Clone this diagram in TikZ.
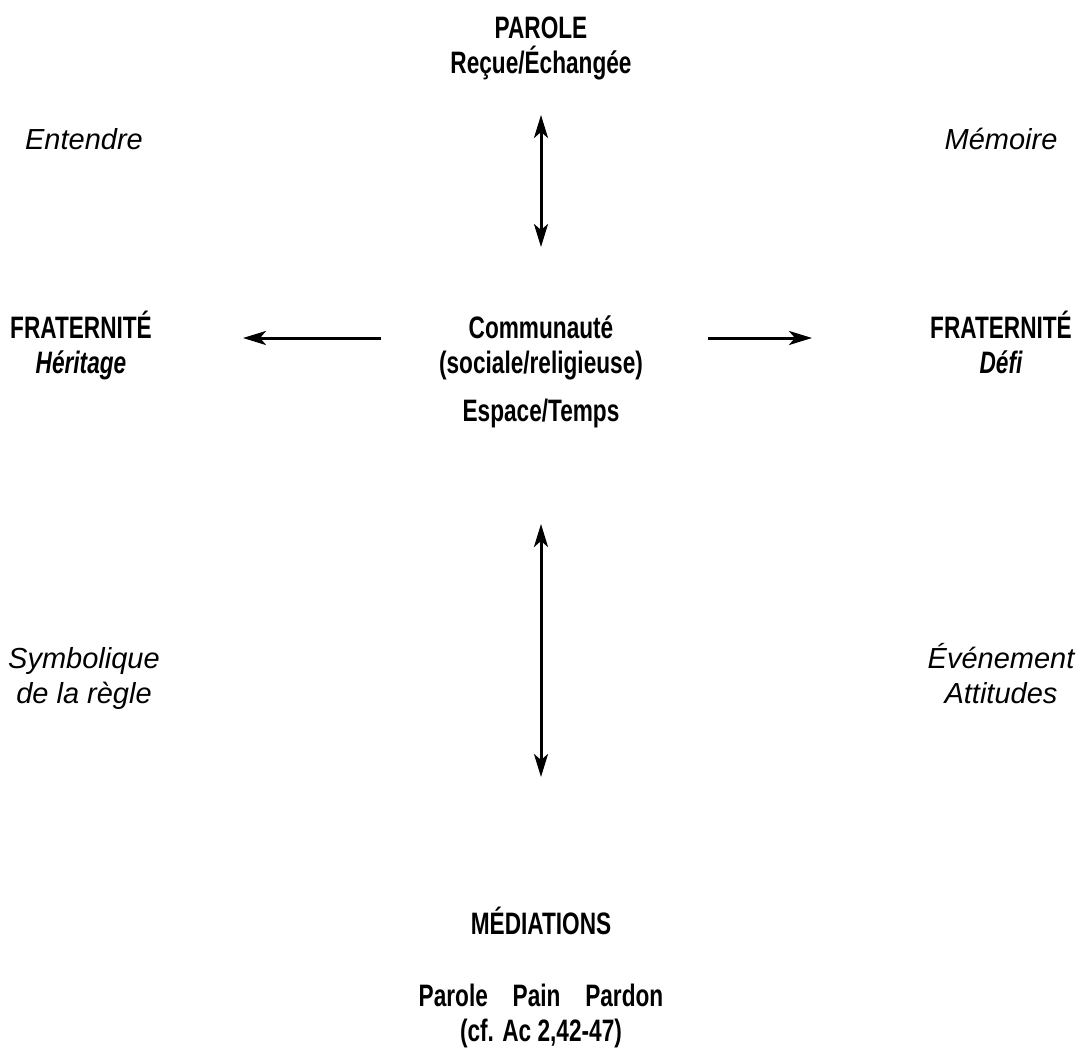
\documentclass[tikz,border=0pt]{standalone}
\usepackage{fontspec}
\setmainfont{Liberation Sans}
\newfontfamily\condfont[FakeStretch=0.73]{Liberation Sans}
\usetikzlibrary{arrows.meta}

\begin{document}
\begin{tikzpicture}[x=1pt,y=-1pt,
  >={Stealth[length=23pt,width=14pt,inset=6pt]},
  head/.style={font=\condfont\bfseries\fontsize{31}{35}\selectfont,align=center,anchor=base,inner sep=0pt},
  note/.style={font=\itshape\fontsize{29}{35}\selectfont,align=center,anchor=base,inner sep=0pt},
  link/.style={line width=3pt}]
\useasboundingbox (0,0) rectangle (1077,1049);

\node[head] (parole) at (541,74) {PAROLE\\Reçue/Échangée}; %TOP
\node[note] (entendre) at (84,149) {Entendre};
\node[note] (memoire) at (1001,149) {Mémoire};

\node[head] (fratG) at (81,373) {FRATERNITÉ\\{\itshape Héritage}}; %LEFT
\node[head] (commu) at (541,373) {Communauté\\(sociale/religieuse)}; %CENTRE
\node[head] (espace) at (541,421) {Espace/Temps};
\node[head] (fratD) at (1001,373) {FRATERNITÉ\\{\itshape Défi}}; %RIGHT

\node[note] (symbol) at (84,703) {Symbolique\\de la règle};
\node[note] (evenement) at (1001,703) {Événement\\Attitudes};

\node[head] (mediations) at (541,934) {MÉDIATIONS}; %BOTTOM
\node[head] (pain) at (541,1041) {Parole\hspace{0.8em}Pain\hspace{0.8em}Pardon\\(cf. Ac 2,42-47)};

\coordinate (haut1) at (541,115);
\coordinate (haut2) at (541,247);
\coordinate (gauche1) at (381,338);
\coordinate (gauche2) at (243,338);
\coordinate (droite1) at (708,338);
\coordinate (droite2) at (812,338);
\coordinate (bas1) at (541,524);
\coordinate (bas2) at (541,777);

\draw[link,<->] (haut1) -- (haut2);
\draw[link,->] (gauche1) -- (gauche2);
\draw[link,->] (droite1) -- (droite2);
\draw[link,<->] (bas1) -- (bas2);
\end{tikzpicture}
\end{document}
